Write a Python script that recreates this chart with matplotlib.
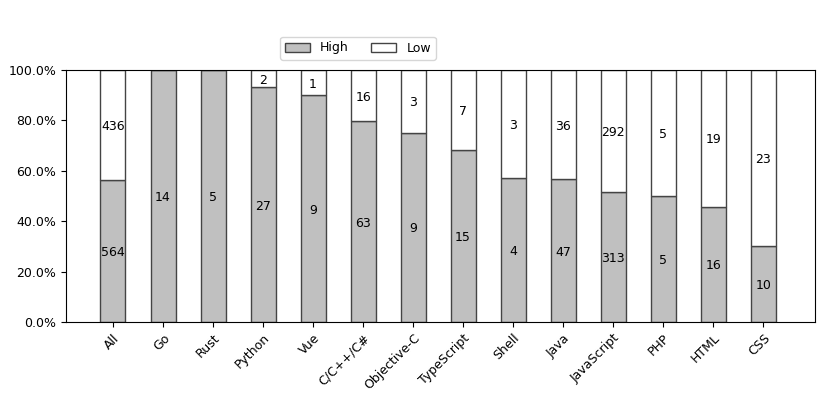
from matplotlib import pyplot as plt
from matplotlib.ticker import PercentFormatter
import numpy as np

langs = ['All', 'Go', 'Rust', 'Python', 'Vue', 'C/C++/C#', 'Objective-C',
         'TypeScript', 'Shell', 'Java', 'JavaScript', 'PHP', 'HTML', 'CSS']
high = [564, 14, 5, 27, 9, 63, 9, 15, 4, 47, 313, 5, 16, 10]
low = [436, 0, 0, 2, 1, 16, 3, 7, 3, 36, 292, 5, 19, 23]

high = np.array(high, dtype=float)
low = np.array(low, dtype=float)
total = high + low
high_pct = high / total * 100
low_pct = low / total * 100

fig = plt.figure(figsize=(8.31, 3.93), dpi=100)
ax = fig.add_axes([0.0794, 0.1807, 0.9016, 0.6412])

x = np.arange(len(langs))
ax.bar(x, high_pct, width=0.5, color='#c0c0c0', edgecolor='#444444', linewidth=1, label='High')
ax.bar(x, low_pct, width=0.5, bottom=high_pct, color='white', edgecolor='#444444', linewidth=1, label='Low')

# counts in the middle of each segment
for i in range(len(langs)):
    if high[i] > 0:
        ax.text(x[i], high_pct[i] / 2, '%d' % high[i], ha='center', va='center_baseline', fontsize=9)
    if low[i] > 0:
        ax.text(x[i], high_pct[i] + low_pct[i] / 2, '%d' % low[i], ha='center', va='center_baseline', fontsize=9)

ax.set_xlim(-0.94, 14.04)
ax.set_ylim(0, 100)
ax.set_yticks([0, 20, 40, 60, 80, 100])
ax.yaxis.set_major_formatter(PercentFormatter(decimals=1))
ax.set_xticks(x)
ax.set_xticklabels(langs, rotation=45, ha='right', rotation_mode='anchor', fontsize=9)
ax.tick_params(axis='y', labelsize=9)

fig.legend(loc='center', bbox_to_anchor=(358 / 831, 1 - 48 / 393), ncol=2, fontsize=9,
           handlelength=2, columnspacing=1.8)

fig.savefig('out.png', dpi=100)
